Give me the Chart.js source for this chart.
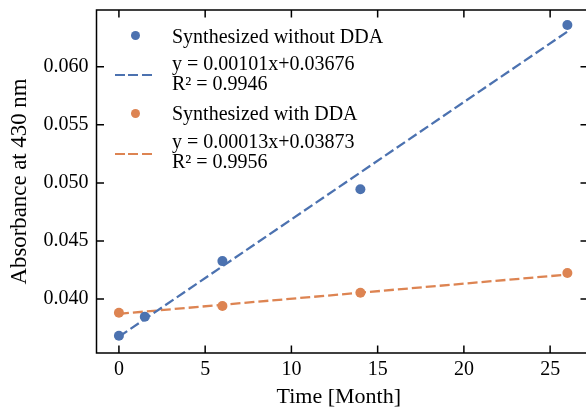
<!DOCTYPE html>
<html>
<head>
<meta charset="utf-8">
<script src="https://cdn.jsdelivr.net/npm/chart.js@4.4.1/dist/chart.umd.min.js"></script>
<style>
  html, body { margin: 0; padding: 0; background: #fff; overflow: hidden; }
  #wrap { position: relative; width: 586px; height: 408px; }
  #legend { position: absolute; left: 0; top: 0; font-family: 'Liberation Serif', 'Times New Roman', serif; font-size: 20px; color: #000; }
  .lg-text { position: absolute; left: 172px; line-height: 18px; white-space: nowrap; }
  .lg-dot { position: absolute; left: 130.5px; width: 9px; height: 9px; border-radius: 50%; }
  .lg-dash { position: absolute; left: 115px; width: 37px; height: 2.3px; }
</style>
</head>
<body>
<div id="wrap">
  <canvas id="absChart" width="586" height="408"></canvas>
  <div id="legend"></div>
</div>
<script>
// measured values
const monthsWithout = [0, 1.5, 6, 14, 26];
const absWithout = [0.03684, 0.03848, 0.04327, 0.04946, 0.06359];
const monthsWith = [0, 6, 14, 26];
const absWith = [0.03882, 0.0394, 0.04054, 0.04224];

// linear fit end points
const fitMonths = [0, 26];
const fitWithout = [0.03676, 0.06302];
const fitWith = [0.03873, 0.04211];

const xTicks = [0, 5, 10, 15, 20, 25];
const yTicks = [0.040, 0.045, 0.050, 0.055, 0.060];

const seriesNames = ['Synthesized without DDA', 'Synthesized with DDA'];
const fitLabels = [
    ['y = 0.00101x+0.03676', 'R\u00b2 = 0.9946'],
    ['y = 0.00013x+0.03873', 'R\u00b2 = 0.9956']
];
const colors = ['#4C72B0', '#DD8452'];

const toPoints = (xs, ys) => xs.map((x, i) => ({ x: x, y: ys[i] }));

const serif = "'Liberation Serif', 'Times New Roman', serif";

// inward ticks + frame (the right spine is cut off by the picture edge)
const frameTicks = {
    id: 'frameTicks',
    afterDraw(chart) {
        const { ctx, chartArea: a, scales } = chart;
        const len = 7.5;
        const edge = chart.width;
        ctx.save();
        ctx.strokeStyle = '#000';
        ctx.lineWidth = 1.5;
        ctx.beginPath();
        ctx.moveTo(edge, a.top);
        ctx.lineTo(a.left, a.top);
        ctx.lineTo(a.left, a.bottom);
        ctx.lineTo(edge, a.bottom);
        xTicks.forEach(v => {
            const px = scales.x.getPixelForValue(v);
            ctx.moveTo(px, a.bottom); ctx.lineTo(px, a.bottom - len);
            ctx.moveTo(px, a.top); ctx.lineTo(px, a.top + len);
        });
        yTicks.forEach(v => {
            const py = scales.y.getPixelForValue(v);
            ctx.moveTo(a.left, py); ctx.lineTo(a.left + len, py);
            ctx.moveTo(edge, py); ctx.lineTo(edge - 5.5, py);
        });
        ctx.stroke();
        ctx.restore();
    }
};

const noPad = scale => {
    scale.paddingTop = 0;
    scale.paddingBottom = 0;
    scale.paddingLeft = 0;
    scale.paddingRight = 0;
};

new Chart(document.getElementById('absChart'), {
    type: 'scatter',
    data: {
        datasets: [
            {
                label: seriesNames[0],
                data: toPoints(monthsWithout, absWithout),
                backgroundColor: colors[0],
                borderWidth: 0,
                pointRadius: 5,
                order: 0
            },
            {
                label: seriesNames[1],
                data: toPoints(monthsWith, absWith),
                backgroundColor: colors[1],
                borderWidth: 0,
                pointRadius: 5,
                order: 0
            },
            {
                label: 'fit 1',
                data: toPoints(fitMonths, fitWithout),
                showLine: true,
                borderColor: colors[0],
                borderWidth: 2.3,
                borderDash: [10, 4],
                pointRadius: 0,
                order: 1
            },
            {
                label: 'fit 2',
                data: toPoints(fitMonths, fitWith),
                showLine: true,
                borderColor: colors[1],
                borderWidth: 2.3,
                borderDash: [10, 4],
                pointRadius: 0,
                order: 1
            }
        ]
    },
    options: {
        responsive: false,
        animation: false,
        devicePixelRatio: 1,
        layout: { padding: { left: 0, top: 10, right: 0, bottom: 0 } },
        plugins: {
            legend: { display: false },
            tooltip: { enabled: false }
        },
        scales: {
            x: {
                type: 'linear',
                min: -1.3,
                max: 26.79,
                grid: { display: false, drawTicks: false, tickLength: 0 },
                border: { display: false },
                afterBuildTicks: scale => { scale.ticks = xTicks.map(v => ({ value: v })); },
                afterFit: scale => { scale.height = 55; noPad(scale); },
                ticks: {
                    padding: 4.5,
                    color: '#000',
                    font: { family: serif, size: 20 },
                    maxRotation: 0,
                    callback: v => String(v)
                },
                title: {
                    display: true,
                    text: 'Time [Month]',
                    color: '#000',
                    font: { family: serif, size: 22, lineHeight: 1 },
                    padding: { top: 0, bottom: -0.5 }
                }
            },
            y: {
                type: 'linear',
                min: 0.03536,
                max: 0.06488,
                grid: { display: false, drawTicks: false, tickLength: 0 },
                border: { display: false },
                afterBuildTicks: scale => { scale.ticks = yTicks.map(v => ({ value: v })); },
                afterFit: scale => { scale.width = 96.5; noPad(scale); },
                ticks: {
                    padding: 8,
                    color: '#000',
                    font: { family: serif, size: 20 },
                    callback: v => v.toFixed(3)
                },
                title: {
                    display: true,
                    text: 'Absorbance at 430 nm',
                    color: '#000',
                    font: { family: serif, size: 22.8, lineHeight: 1 },
                    padding: { top: 8.5, bottom: 0 }
                }
            }
        }
    },
    plugins: [frameTicks]
});

// legend drawn as html text
const legend = document.getElementById('legend');
const dotTops = [31.2, 108.8];
const dashTops = [74, 152.5];
const textTops = [[27, 54.3, 74.3], [104.3, 131.6, 151.6]];
seriesNames.forEach((name, i) => {
    const dot = document.createElement('div');
    dot.className = 'lg-dot';
    dot.style.top = dotTops[i] + 'px';
    dot.style.background = colors[i];
    legend.appendChild(dot);

    const dash = document.createElement('div');
    dash.className = 'lg-dash';
    dash.style.top = dashTops[i] + 'px';
    dash.style.background = `repeating-linear-gradient(to right, ${colors[i]} 0 10px, transparent 10px 13.5px)`;
    legend.appendChild(dash);

    [name].concat(fitLabels[i]).forEach((txt, j) => {
        const t = document.createElement('div');
        t.className = 'lg-text';
        t.style.top = textTops[i][j] + 'px';
        t.textContent = txt;
        legend.appendChild(t);
    });
});
</script>
</body>
</html>
